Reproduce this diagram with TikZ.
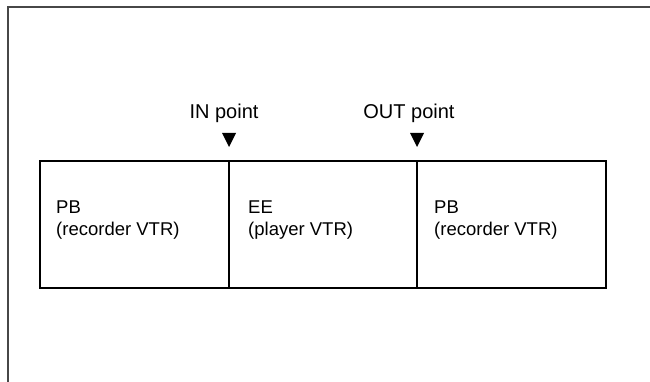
\documentclass[tikz,border=0pt]{standalone}
\usepackage{fontspec}
\setmainfont{Liberation Sans}
\usetikzlibrary{calc}
\begin{document}
\begin{tikzpicture}[x=1pt,y=-1pt,
  lbl/.style={font=\fontsize{18.5}{22}\selectfont, inner sep=0pt, align=left, anchor=north west},
  toplbl/.style={font=\fontsize{20}{22}\selectfont, inner sep=0pt, anchor=base},
  seg/.style={draw, line width=2pt, minimum height=127pt, anchor=north west, inner sep=0pt, outer sep=0pt},
  tri/.style={fill=black}]
\useasboundingbox (0,0) rectangle (650,382);
\draw[line width=2pt, draw=black!72] (7.5,382) -- (7.5,7) -- (650,7);
\node[seg, minimum width=189pt] (s1) at (40,161) {};
\node[seg, minimum width=188pt] (s2) at (s1.north east) {};
\node[seg, minimum width=189pt] (s3) at (s2.north east) {};
\node[lbl] (t1) at (56,201) {PB\\(recorder VTR)};
\node[lbl] (t2) at (248,201) {EE\\(player VTR)};
\node[lbl] (t3) at (434,201) {PB\\(recorder VTR)};
\node[toplbl] (inl) at (224,119) {IN point};
\node[toplbl] (outl) at (409,119) {OUT point};
\fill[tri] ($(s1.north east)+(0,-14)$) -- ++(-7,-14) -- ++(14,0) -- cycle;
\fill[tri] ($(s2.north east)+(0,-14)$) -- ++(-7,-14) -- ++(14,0) -- cycle;
\end{tikzpicture}
\end{document}
